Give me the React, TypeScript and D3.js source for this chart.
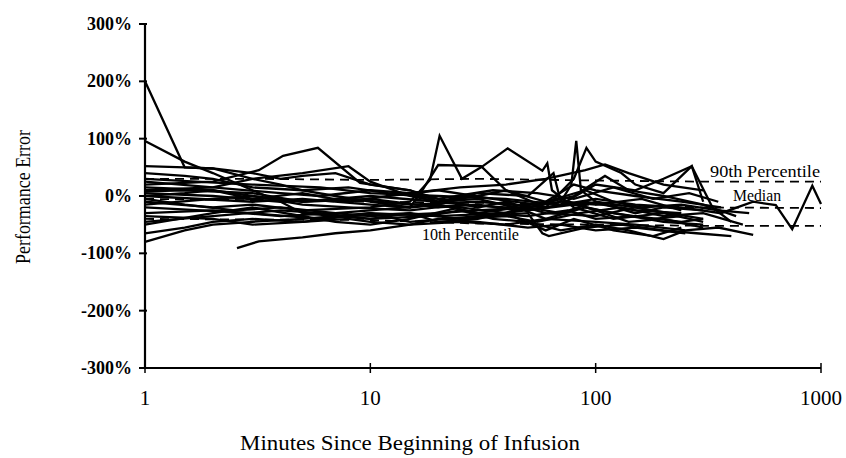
import { line, scaleLinear, scaleLog } from 'd3'

const width = 846
const height = 458

// y tick values (percent) and x tick values (minutes)
const yTicks = [300, 200, 100, 0, -100, -200, -300]
const xTicks = [1, 10, 100, 1000]

// each subject: [minutes, performance error %]
const subjects: [number, number][][] = [
  [[1, 200], [1.5, 50], [2, 48], [3, 30], [4, 20], [5, 10], [7, 0], [10, -10], [15, -20], [20, -15], [30, -30], [45, -20], [60, -40], [90, -20], [120, -30], [180, -40], [240, -35]],
  [[1, 96], [1.5, 60], [2, 40], [3, 10], [4, -10], [5, -30], [7, -35], [10, -40], [15, -30], [20, -45], [30, -40], [50, -20], [70, -30], [100, -10], [150, -30], [200, -20], [300, -25]],
  [[1, 52], [1.5, 50], [2, 48], [3, 40], [4, 30], [5, 35], [7, 40], [10, 20], [15, 10], [20, -10], [30, 0], [40, 10], [60, -10], [80, 20], [100, 10], [150, 0], [240, -10], [360, -20]],
  [[1, 20], [2, 25], [3.2, 45], [4.1, 70], [5.85, 84], [9, 23], [15, 10], [20, -5], [30, -20], [40, -10], [60, -30], [100, -35], [150, -20], [300, -40]],
  [[1, 10], [2, 15], [3, 30], [5, 40], [8, 52], [10, 25], [15, 0], [20, -10], [30, -5], [50, -25], [80, -15], [120, -30], [200, -45], [300, -50]],
  [[2.56, -91], [3.2, -79], [5, -72], [7, -65], [10, -60], [15, -50], [20, -40], [30, -45], [50, -55], [70, -50], [100, -60], [150, -55], [250, -65]],
  [[1, -10], [2, -20], [3, -15], [5, -25], [10, -20], [15, -10], [18.4, 28], [20.3, 105], [25.5, 30], [31, 50], [40.7, 83], [58, 44], [61, 57], [64, 10], [80, -20], [120, -40], [200, -30], [300, -45]],
  [[1, 0], [3, -10], [5, -5], [10, -15], [15, -20], [17, 10], [20, 54], [31, 52], [40, 10], [60, -20], [90, -10], [150, -25], [240, -30]],
  [[1, -30], [2, -25], [4, -35], [7, -30], [10, -35], [20, -30], [30, -25], [50, -20], [70, -10], [78, 20], [82, 96], [86, 10], [100, -10], [150, -20], [200, -30]],
  [[1, -20], [3, -30], [6, -40], [10, -30], [20, -35], [40, -30], [60, -20], [80, 30], [91, 84], [100, 60], [130, 40], [150, 20], [200, 5], [267, 52], [300, -10]],
  [[1, 30], [3, 20], [6, 15], [10, 5], [20, 0], [40, -5], [70, -15], [100, 20], [150, 10], [200, 30], [267, 52], [330, -20], [400, -45]],
  [[1, 5], [2, 0], [4, -10], [8, -5], [15, -15], [30, -10], [60, -20], [100, -5], [150, -15], [240, -20], [360, -30], [500, -10], [630, -16], [745, -58], [915, 18], [1000, -14]],
  [[1, -65], [1.5, -55], [2, -45], [3, -40], [5, -45], [8, -40], [10, -45], [15, -50], [25, -45], [40, -50], [60, -40], [100, -45], [150, -50], [250, -60], [350, -55], [500, -68]],
  [[1, -50], [2, -30], [3, -20], [5, -35], [7, -45], [10, -50], [15, -40], [25, -20], [40, -30], [60, -60], [80, -40], [120, -60], [180, -70], [240, -55]],
  [[1, -80], [1.5, -60], [2, -50], [3, -45], [5, -40], [10, -30], [15, -45], [30, -35], [50, -30], [58, -65], [62, -70], [90, -55], [130, -50], [200, -60], [280, -65], [400, -70]],
  [[1, 15], [2, 10], [3, -5], [5, 5], [8, -10], [12, 0], [20, 10], [35, -5], [55, -15], [80, 0], [110, 35], [140, 10], [200, 0], [300, -15], [420, -35]],
  [[1, -5], [1.5, -15], [2.5, -25], [4, -20], [7, -30], [10, -25], [20, -15], [30, -30], [50, -35], [75, -25], [100, -40], [150, -35], [240, -45], [300, -40]],
  [[1, 40], [1.5, 35], [2, 30], [3, 15], [5, 10], [8, 15], [12, 5], [20, -5], [35, 10], [55, 5], [80, -5], [120, 15], [180, -5], [260, 5], [350, -10]],
  [[1, -35], [2, -40], [3, -50], [5, -45], [8, -35], [15, -30], [25, -40], [40, -35], [55, -45], [85, -30], [130, -20], [200, -35], [300, -30], [450, -50]],
  [[1, 25], [2, 15], [4, 5], [6, 0], [10, 10], [15, 5], [25, 15], [40, 20], [60, 30], [90, 45], [110, 55], [140, 40], [200, 20], [300, 10]],
  [[1, -15], [2, -5], [3, 0], [5, -15], [8, -20], [15, -25], [25, -15], [40, -20], [60, -10], [90, 10], [120, -10], [160, -20], [240, -15], [350, -25], [480, -30]],
  [[1, 8], [1.5, 10], [3, 5], [5, -10], [10, -5], [20, -20], [30, -15], [45, -25], [70, -5], [100, -25], [140, -45], [200, -40], [300, -55]],
  [[1, -45], [2, -35], [4, -25], [6, -30], [10, -40], [18, -35], [25, -25], [35, -40], [50, -45], [70, -60], [100, -50], [140, -60], [200, -75], [250, -60]],
  [[1, 0], [1.5, 5], [2, 10], [3, 0], [5, -10], [10, 0], [20, -10], [30, 5], [50, 0], [65, 40], [70, -10], [100, -15], [160, -5], [240, -25]],
]

// percentile curves
const p90: [number, number][] = [[1, 30], [3, 30], [10, 28], [30, 30], [100, 27], [300, 25], [1000, 25]]
const median: [number, number][] = [[1, -5], [10, -10], [30, -12], [100, -15], [300, -20], [1000, -21]]
const p10: [number, number][] = [[1, -40], [10, -42], [30, -48], [100, -50], [300, -52], [1000, -52]]

const x = scaleLog().domain([1, 1000]).range([145, 821])
const y = scaleLinear().domain([-300, 300]).range([368, 24])

const path = line<[number, number]>()
  .x(d => x(d[0]))
  .y(d => y(d[1]))

const font = '"Liberation Serif", "Times New Roman", serif'

function App() {
  return (
    <svg width={width} height={height} style={{ position: 'absolute', left: 0, top: 0, background: '#fff' }} fontFamily={font}>
      {/* subjects */}
      <g fill="none" stroke="#000" strokeWidth={2.3} strokeLinejoin="miter">
        {subjects.map((s, i) => <path key={i} d={path(s) || ''} />)}
      </g>

      {/* percentile lines */}
      <g fill="none" stroke="#000" strokeWidth={1.8} strokeDasharray="9,6">
        <path d={path(p90) || ''} />
        <path d={path(median) || ''} />
        <path d={path(p10) || ''} />
      </g>
      <g fontSize={16} fill="#000">
        <text x={710} y={177} textLength={110} lengthAdjust="spacingAndGlyphs">90th Percentile</text>
        <text x={733} y={201} textLength={48} lengthAdjust="spacingAndGlyphs">Median</text>
        <text x={422} y={240} textLength={97} lengthAdjust="spacingAndGlyphs">10th Percentile</text>
      </g>

      {/* y axis */}
      <line x1={x(1)} x2={x(1)} y1={y(300)} y2={y(-300)} stroke="#000" strokeWidth={2.2} />
      {yTicks.map(t => (
        <g key={t}>
          <line x1={x(1) - 6} x2={x(1) + 2} y1={y(t)} y2={y(t)} stroke="#000" strokeWidth={2} />
          <text x={132} y={y(t) + 6} textAnchor="end" fontSize={18} fontWeight="bold">{t}%</text>
        </g>
      ))}

      {/* x axis */}
      <line x1={x(1)} x2={x(1000)} y1={y(-300)} y2={y(-300)} stroke="#000" strokeWidth={2.2} />
      {xTicks.map(t => (
        <g key={t}>
          <line x1={x(t)} x2={x(t)} y1={y(-300) - 5} y2={y(-300) + 5} stroke="#000" strokeWidth={1.5} />
          <text x={x(t)} y={405} textAnchor="middle" fontSize={21}>{t}</text>
        </g>
      ))}

      <text x={240} y={450} fontSize={22} textLength={340} lengthAdjust="spacingAndGlyphs">Minutes Since Beginning of Infusion</text>
      <text transform={`translate(30, 264) rotate(-90)`} fontSize={21} textLength={134} lengthAdjust="spacingAndGlyphs">Performance Error</text>
    </svg>
  )
}

export default App
